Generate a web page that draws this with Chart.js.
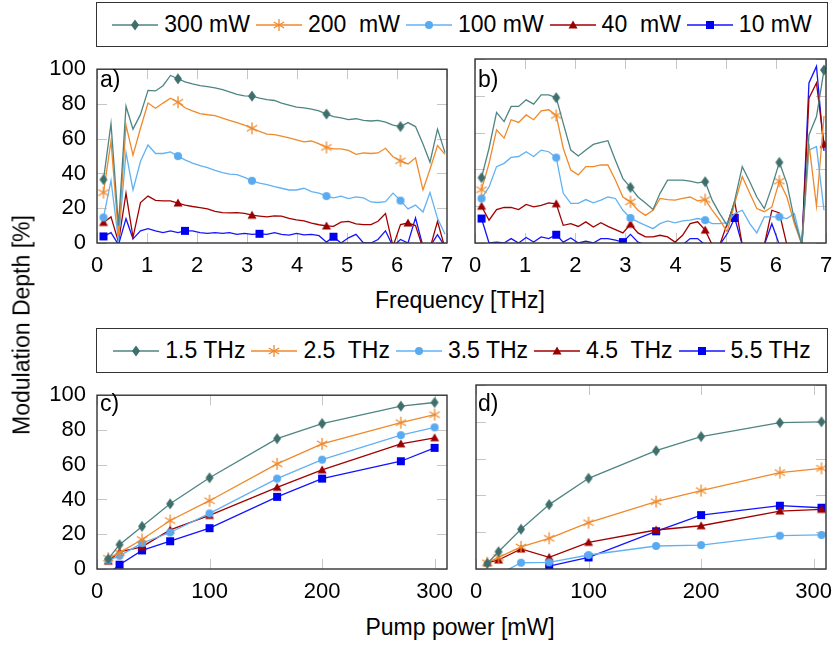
<!DOCTYPE html>
<html>
<head>
<meta charset="utf-8">
<script src="https://cdn.jsdelivr.net/npm/chart.js@4.4.1/dist/chart.umd.min.js"></script>
<style>
  body { margin:0; background:#fff; width:836px; height:646px; position:relative; overflow:hidden;
         font-family:"Liberation Sans", Arial, sans-serif; color:#000; }
  canvas.panel { position:absolute; }
  .legend { position:absolute; border:1.3px solid #333; box-sizing:border-box; background:#fff;
            display:flex; align-items:center; justify-content:center; font-size:23px; white-space:pre; }
  .legend .item { display:flex; align-items:center; margin:0 3px; }
  .legend canvas { margin-right:6px; }
  .lbl { position:absolute; font-size:23px; line-height:23px; white-space:nowrap; }
  .title { position:absolute; font-size:23px; line-height:23px; white-space:nowrap; transform:translate(-50%,-50%); }
</style>
</head>
<body>
<div class="legend" id="legTop" style="left:96px; top:2px; width:732px; height:45px;"></div>
<div class="legend" id="legBot" style="left:96px; top:328px; width:732px; height:45px;"></div>

<canvas class="panel" id="pa" width="440" height="235" style="left:20px; top:45px;"></canvas>
<canvas class="panel" id="pb" width="373" height="235" style="left:463px; top:45px;"></canvas>
<canvas class="panel" id="pc" width="440" height="235" style="left:20px; top:371px;"></canvas>
<canvas class="panel" id="pd" width="373" height="235" style="left:463px; top:371px;"></canvas>

<div class="lbl" style="left:100px; top:68px;">a)</div>
<div class="lbl" style="left:478px; top:68px;">b)</div>
<div class="lbl" style="left:100px; top:392px;">c)</div>
<div class="lbl" style="left:478px; top:392px;">d)</div>

<div class="title" style="left:460px; top:300px;">Frequency [THz]</div>
<div class="title" style="left:460px; top:627px;">Pump power [mW]</div>
<div class="title" style="left:22px; top:325px; transform:translate(-50%,-50%) rotate(-90deg);">Modulation Depth [%]</div>

<script>
// ---- data ----
const freqs = [0.13, 0.28, 0.43, 0.58, 0.72, 0.87, 1.02, 1.17, 1.32, 1.47,
               1.62, 1.76, 1.91, 2.06, 2.21, 2.36, 2.51, 2.65, 2.80, 2.95,
               3.10, 3.25, 3.40, 3.55, 3.69, 3.84, 3.99, 4.14, 4.29, 4.44,
               4.59, 4.73, 4.88, 5.03, 5.18, 5.33, 5.48, 5.62, 5.77, 5.92,
               6.07, 6.22, 6.37, 6.52, 6.66, 6.81, 6.96];

const powerLabels = ["300 mW", "200  mW", "100 mW", "40  mW", "10 mW"];
const freqLabels = ["1.5 THz", "2.5  THz", "3.5 THz", "4.5  THz", "5.5 THz"];

// panel a)
const a300 = [36.5, 68.7, 10, 78.7, 65.5, 74, 87.8, 87.5, 90.5, 96.4,
              94.5, 92.7, 91.5, 90.5, 90, 89.3, 88.2, 87, 85.5, 84.7,
              84.5, 83.3, 82.5, 82, 80.5, 79.3, 78.2, 77.8, 77, 76,
              74.2, 72.7, 72, 71, 71.5, 70.5, 70.2, 70.5, 69.5, 67.8,
              67, 69.3, 67, 57, 46.5, 65.5, 52];
const a200 = [29, 58.7, 4, 67.8, 50.5, 66, 80.5, 77.5, 80.5, 83.3,
              81, 77.8, 76, 74.5, 73.8, 73.3, 71.8, 70.5, 69.3, 67.8,
              66, 64.2, 62.7, 62.4, 61.5, 60.5, 59.3, 58.2, 58.7, 57,
              55, 54.2, 54.2, 53.3, 51, 51.8, 51.5, 51.8, 54.5, 49.6,
              47.3, 45.5, 49, 30.5, 42.4, 56, 51];
const a100 = [14.7, 36, 1.5, 52, 30.5, 47, 56.4, 51.5, 51.5, 52.4,
              50, 47.8, 46, 44.5, 43.3, 41.8, 40.5, 39.6, 39.3, 37.8,
              35.8, 34.5, 33.6, 32.4, 31.5, 30.5, 30.5, 31.5, 29.6, 28.7,
              27, 26, 27, 25.5, 26.5, 26, 23.6, 23.3, 23.8, 28.7,
              24.4, 19.6, 21.8, 17.8, 29, 14.2, 5];
const a40  = [11.8, 15, 0.5, 28.7, 3.3, 23.3, 27, 24.5, 24.2, 24.2,
              23, 21.8, 21, 20.4, 19.6, 18.2, 17.5, 17.3, 17.5, 17,
              16, 15.5, 15, 15.6, 15.5, 14.2, 13.3, 12.7, 11.5, 10.5,
              9.8, 9.6, 12, 12.4, 11, 10.6, 10.6, 12.5, 17, -2,
              10.6, 11.5, 10, -3, -3, 12.4, -3];
const a10  = [3.8, 6, -1, 14, 2.4, 7, 8.2, 7, 6, 7,
              6, 7, 7, 6, 5.5, 6, 5.5, 6, 5, 5.5,
              5, 5.3, 5, 6, 5, 4.5, 5.5, 4.7, 5, 4.2,
              0.5, 3.6, 0, 3, 5, 0, 0, 2, 7, -2,
              2, 0, 14.5, -2, -2, 4.8, -2];

// panel b)
const b300 = [35.5, 51.5, 71, 66, 74.2, 74.2, 77.8, 75.5, 80.5, 80.5,
              79, 65, 50.5, 47.3, 50.5, 53.6, 54.7, 55.6, 45, 35,
              30.2, 25, 21.8, 18.2, 27, 34.2, 34.2, 34.2, 33.6, 32.7,
              33.3, 23.3, 16, 9.6, 23.3, 41.5, 33.3, 25, 18.7, 30.5,
              43.8, 32.4, 12.4, -1, 58.7, 68.7, 94];
const b200 = [29, 43.3, 61.5, 57, 67, 65.5, 69.6, 67, 71.8, 72.4,
              69.3, 51.5, 39.6, 37, 41.5, 41.5, 42.4, 42.4, 34.2, 25,
              22.4, 17.8, 15, 17.8, 24.2, 23.6, 23.3, 24.2, 25, 22.9,
              23.6, 17.8, 12.4, 6, 21.5, 36, 27, 18.7, 17, 19.6,
              33.6, 25, 10.5, -1, 54, 20, 69];
const b100 = [24.2, 30.5, 41.5, 43.3, 46.5, 47, 49.6, 47, 50.5, 49.6,
              46.4, 27, 21.5, 21.5, 23.6, 21.8, 23.3, 25, 24.2, 17.8,
              13.6, 11.5, 9.6, 7.8, 10.5, 12, 11, 12, 12.4, 13.3,
              12.4, 10.5, 10.5, 11, 16, 17.8, 10.5, 5.5, 14.2, 14.2,
              14.2, 13.3, 16, -1, 50.5, 52.4, 17.8];
const b40  = [20, 12.4, 18.2, 19.3, 19.3, 18.2, 21, 19.6, 20.5, 21.8,
              21.3, 9.6, 10.5, 9, 11.5, 8.7, 11, 9, 7.3, 5.5,
              10.2, 5.5, 3.3, 3.3, 4.2, 3.3, 0.5, 4.2, 10.5, 11.5,
              7, -1, -1, 10.5, 22.4, -1, -1, -1, -1, 17.8,
              16.3, -1, -1, -1, 78.7, 87, 53.6];
const b10  = [13.3, 0, 0.5, 0, 2.4, 0, 3, 0.5, 3.3, 2.4,
              4.5, 0.5, 2.7, 0, 1, 0, 2.4, 2.4, 1.5, 0.5,
              4.7, 0.5, -1, -1, -1, -1, -1, -1, 2.4, 2.4,
              -1, -1, -1, 5, 13.6, -1, -1, -1, -1, 10.5,
              -1, -1, -1, -1, 87, 96, 50];

// panel c) and d)
const pumpC = [10, 20, 40, 65, 100, 160, 200, 270, 300];
const pumpD = [10, 20, 40, 65, 100, 160, 200, 270, 307];
const c15 = [5.8, 14, 24.5, 37.5, 52.5, 75, 83.7, 93.7, 95.8];
const c25 = [6.2, 9.4, 17, 27.9, 39.3, 60.5, 72, 84.2, 88.8];
const c35 = [5, 7.6, 14.9, 21, 32, 52, 62.9, 77, 81.5];
const c45 = [4.5, 9.8, 12.7, 22.5, 30.8, 47, 57, 72, 75.5];
const c55 = [-3, 2.5, 10.7, 16, 23.5, 41.5, 52, 62, 69.7];
const d15 = [3, 9.4, 21.6, 35, 49.3, 64.3, 72, 79.5, 80];
const d25 = [3.4, 6.3, 12, 16.7, 25.2, 36.6, 42.6, 52.4, 54.7];
const d35 = [null, -3, 3.4, 3.6, 7.6, 12.5, 13, 18.1, 18.5];
const d45 = [3.4, 4.9, 10.9, 6.3, 14.5, 21.2, 23.5, 31.5, 32.4];
const d55 = [null, null, null, 1.6, 6.3, 20.5, 29.3, 34.4, 33.3];

// which points of the frequency sweeps carry a marker
const markA = [[0,10,20,30,40], [0,10,20,30,40], [0,10,20,30,40], [0,10,20,30,41], [0,11,21,31]];
const markB = [[0,10,20,30,40,46], [0,10,20,30,40], [0,10,20,30,40], [0,10,20,30,46], [0,10,19,34]];

// ---- styles ----
const lineCols = ["#4e8583", "#f0892a", "#62b2f3", "#a00000", "#1414ff"];
const markCols = ["#3f6f6d", "#ee8a2e", "#5aaaf0", "#9a0000", "#0000f0"];
const markKinds = ["diamond", "asterisk", "circle", "triangle", "square"];

function makeMarker(kind, col) {
  const c = document.createElement("canvas");
  c.width = 14; c.height = 14;
  const g = c.getContext("2d");
  g.fillStyle = col; g.strokeStyle = col;
  g.beginPath();
  if (kind === "diamond") {
    g.moveTo(7, 1.5); g.lineTo(11, 7); g.lineTo(7, 12.5); g.lineTo(3, 7); g.closePath(); g.fill();
  } else if (kind === "asterisk") {
    g.lineWidth = 1.3;
    for (let k = 0; k < 3; k++) {
      const ang = Math.PI / 2 + k * Math.PI / 3;
      g.moveTo(7 + 6 * Math.cos(ang), 7 + 6 * Math.sin(ang));
      g.lineTo(7 - 6 * Math.cos(ang), 7 - 6 * Math.sin(ang));
    }
    g.stroke();
  } else if (kind === "circle") {
    g.arc(7, 7, 4, 0, Math.PI * 2); g.fill();
  } else if (kind === "triangle") {
    g.moveTo(7, 2.5); g.lineTo(11.5, 10.5); g.lineTo(2.5, 10.5); g.closePath(); g.fill();
  } else {
    g.rect(3, 3, 8, 8); g.fill();
  }
  return c;
}
const markers = markKinds.map((k, i) => makeMarker(k, markCols[i]));

function legendIcon(i) {
  const c = document.createElement("canvas");
  c.width = 46; c.height = 16;
  const g = c.getContext("2d");
  g.strokeStyle = lineCols[i]; g.lineWidth = 1.3;
  g.beginPath(); g.moveTo(0, 8); g.lineTo(46, 8); g.stroke();
  g.drawImage(markers[i], 16, 1);
  return c;
}

function buildLegend(id, labels) {
  const box = document.getElementById(id);
  labels.forEach((t, i) => {
    const it = document.createElement("div");
    it.className = "item";
    it.appendChild(legendIcon(i));
    const s = document.createElement("span");
    s.textContent = t;
    it.appendChild(s);
    box.appendChild(it);
  });
}
buildLegend("legTop", powerLabels);
buildLegend("legBot", freqLabels);

// frame + small grey inner ticks (pgfplots look)
const framePlugin = {
  id: "frame",
  beforeDatasetsDraw(chart) {
    const { ctx, chartArea: a, scales: { x, y } } = chart;
    ctx.save();
    ctx.strokeStyle = "#c6c6c6"; ctx.lineWidth = 1;
    ctx.beginPath();
    x.ticks.forEach(t => {
      const px = Math.round(x.getPixelForValue(t.value)) + 0.5;
      ctx.moveTo(px, a.top); ctx.lineTo(px, a.top + 10);
      ctx.moveTo(px, a.bottom); ctx.lineTo(px, a.bottom - 10);
    });
    y.ticks.forEach(t => {
      const py = Math.round(y.getPixelForValue(t.value)) + 0.5;
      ctx.moveTo(a.left, py); ctx.lineTo(a.left + 10, py);
      ctx.moveTo(a.right, py); ctx.lineTo(a.right - 10, py);
    });
    ctx.stroke();
    ctx.restore();
  },
  afterDatasetsDraw(chart) {
    const { ctx, chartArea: a } = chart;
    ctx.save();
    ctx.strokeStyle = "#333"; ctx.lineWidth = 1.4;
    ctx.strokeRect(a.left, a.top, a.right - a.left, a.bottom - a.top);
    ctx.restore();
  }
};

const tickFont = { family: "'Liberation Sans', Arial, sans-serif", size: 22 };

function makePanel(id, xs, series, marks, xr, showY, pad) {
  const datasets = series.map((vals, i) => ({
    data: vals.map((v, k) => ({ x: xs[k], y: v })),
    borderColor: lineCols[i],
    borderWidth: 1.3,
    pointStyle: markers[i],
    pointRadius: marks ? vals.map((v, k) => marks[i].includes(k) ? 4 : 0) : 4,
    pointHoverRadius: 0,
    tension: 0,
    spanGaps: false,
    order: i
  }));
  return new Chart(document.getElementById(id), {
    type: "line",
    data: { datasets },
    plugins: [framePlugin],
    options: {
      responsive: false,
      animation: false,
      devicePixelRatio: 1,
      layout: { padding: pad },
      plugins: { legend: { display: false }, tooltip: { enabled: false } },
      scales: {
        x: {
          type: "linear", min: xr[0], max: xr[1],
          grid: { display: false }, border: { display: false },
          ticks: { stepSize: xr[2], includeBounds: false, color: "#000", font: tickFont, padding: 2, maxRotation: 0 },
          afterFit: s => { s.height = 37; }
        },
        y: {
          display: showY, min: 0, max: 100,
          grid: { display: false, drawTicks: false }, border: { display: false },
          ticks: { stepSize: 20, color: "#000", font: tickFont, padding: 11 },
          afterFit: s => { s.width = showY ? 77 : 0; }
        }
      }
    }
  });
}

makePanel("pa", freqs, [a300, a200, a100, a40, a10], markA, [0, 7, 1], true, { top: 14, right: 13, left: 0, bottom: 0 });
makePanel("pb", freqs, [b300, b200, b100, b40, b10], markB, [0, 7, 1], false, { top: 14, right: 10, left: 12, bottom: 0 });
makePanel("pc", pumpC, [c15, c25, c35, c45, c55], null, [0, 311, 100], true, { top: 14, right: 13, left: 0, bottom: 0 });
makePanel("pd", pumpD, [d15, d25, d35, d45, d55], null, [0, 311, 100], false, { top: 14, right: 10, left: 13, bottom: 0 });
</script>
</body>
</html>
